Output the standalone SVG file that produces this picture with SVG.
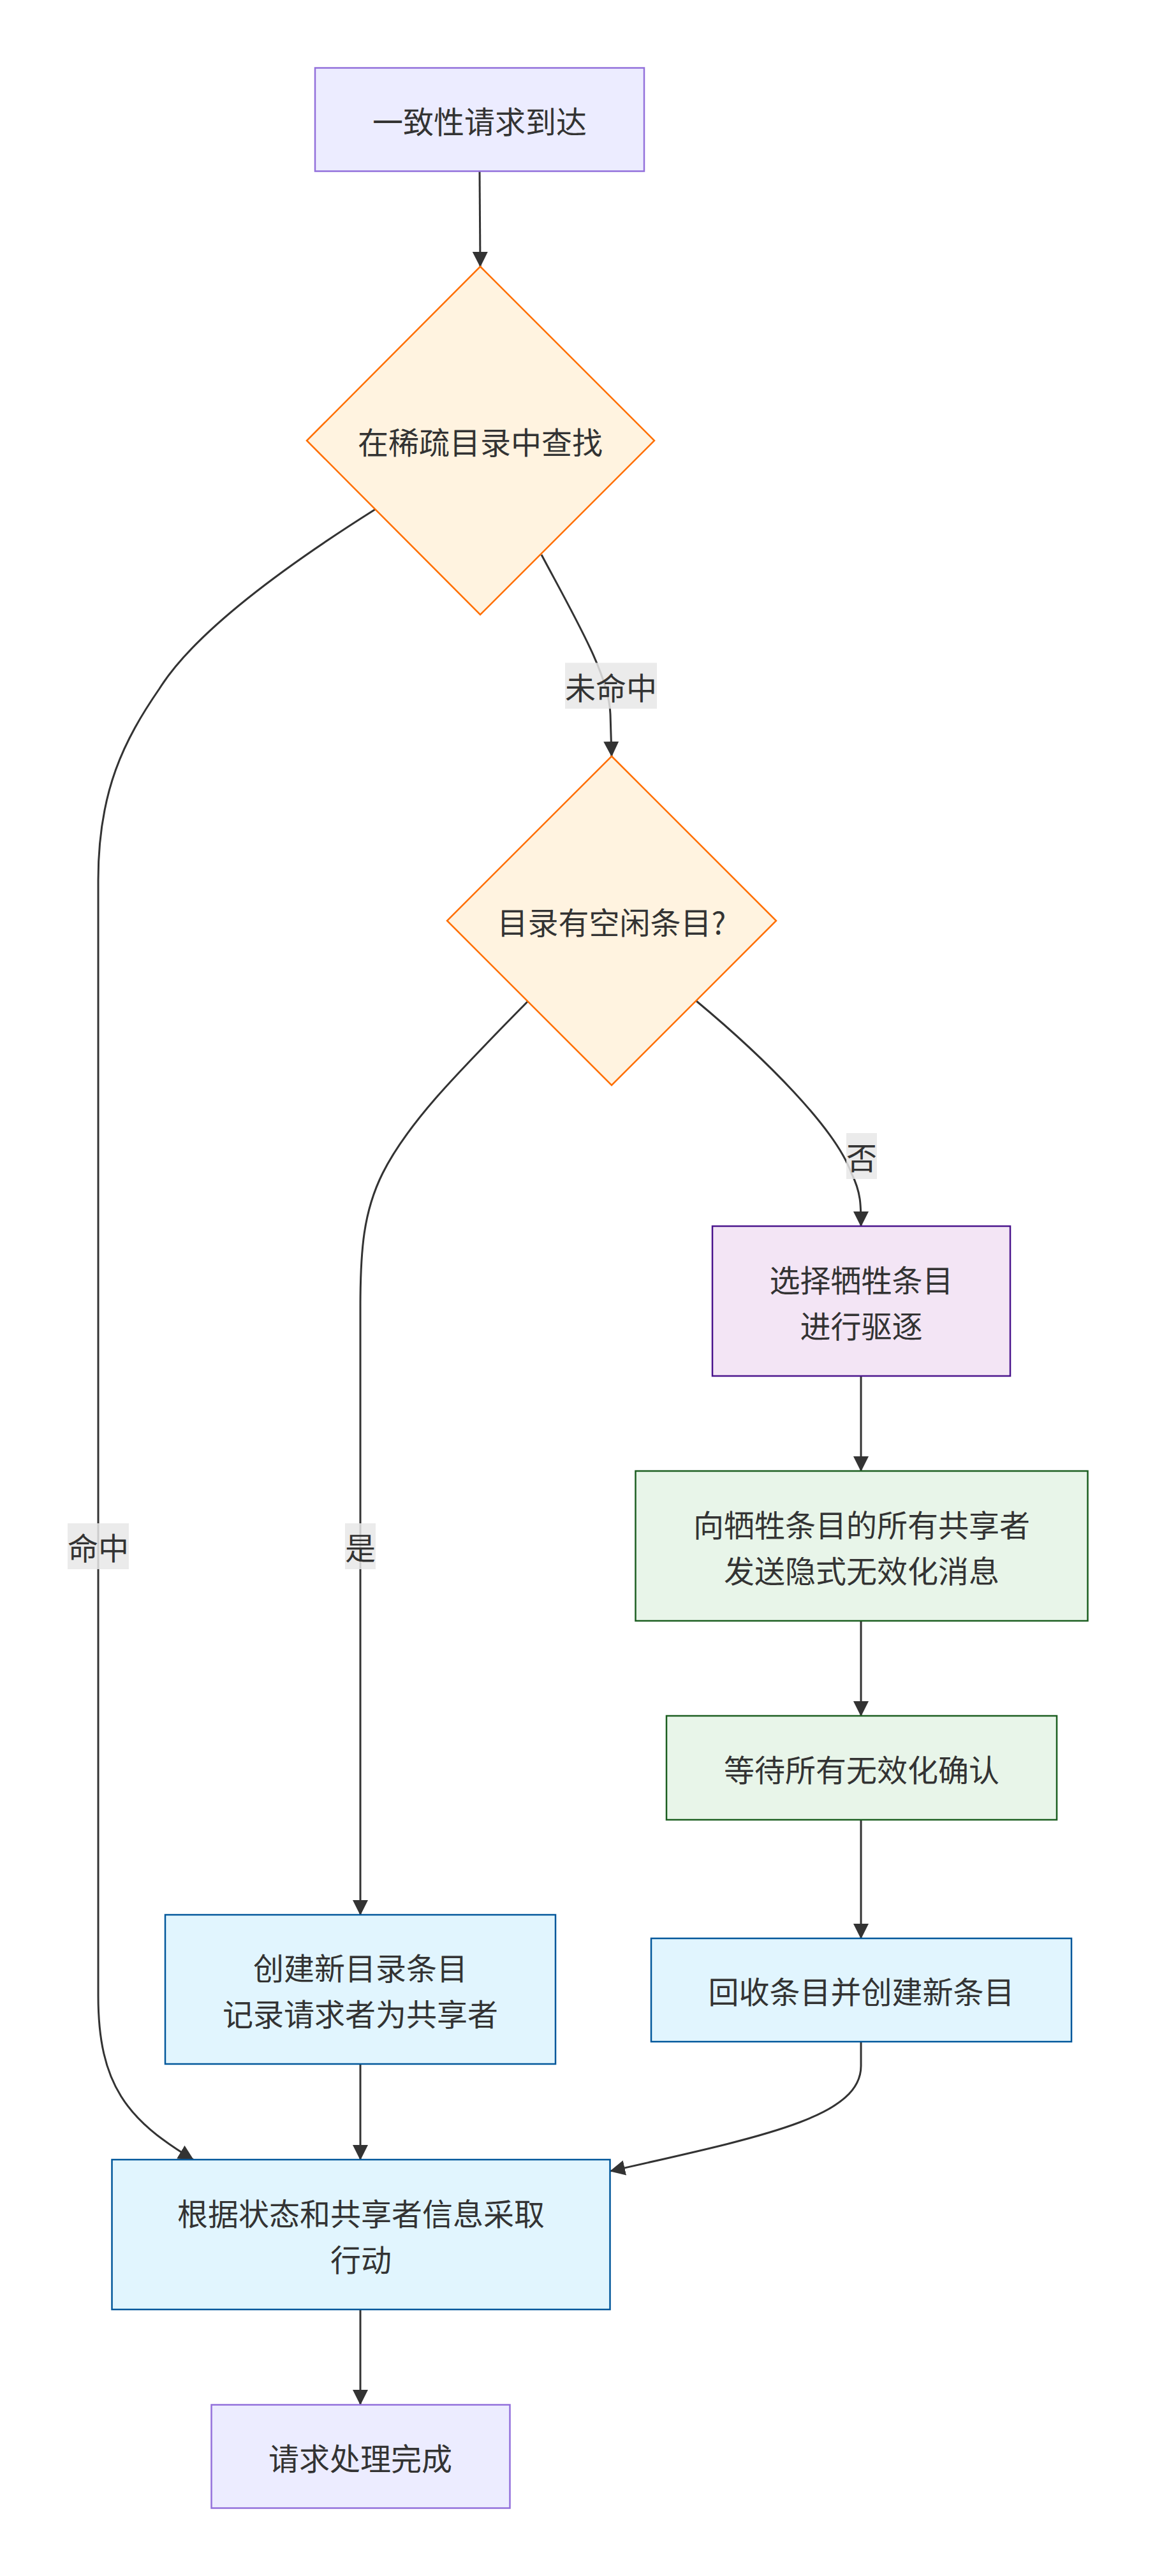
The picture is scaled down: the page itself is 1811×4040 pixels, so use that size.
<svg xmlns="http://www.w3.org/2000/svg" width="1811" height="4040" viewBox="0 0 1811 4040">
<defs>
<marker id="arrow" markerUnits="userSpaceOnUse" viewBox="0 0 24 24" refX="23" refY="12" markerWidth="24" markerHeight="24" orient="auto">
<path d="M0,0 L24,12 L0,24 z" fill="#333333"/>
</marker>
<style>
.edge{fill:none;stroke:#333333;stroke-width:3;marker-end:url(#arrow);}
.t{font-family:"Noto Sans CJK SC","Noto Sans",sans-serif;font-size:48px;fill:#333333;text-anchor:middle;dominant-baseline:central;}
.lbl{fill:#e8e8e8;fill-opacity:0.85;}
.term{fill:#ECECFF;stroke:#9370DB;stroke-width:2.5;}
.dec{fill:#FFF3E0;stroke:#FF6F00;stroke-width:2.5;}
.evict{fill:#F3E5F5;stroke:#4A148C;stroke-width:2.5;}
.green{fill:#E8F5E9;stroke:#1B5E20;stroke-width:2.5;}
.blue{fill:#E1F5FE;stroke:#01579B;stroke-width:2.5;}
</style>
</defs>
<rect width="1811" height="4040" fill="#ffffff"/>

<g id="connectors">
<path class="edge" d="M752,269 L753,418"/>
<path class="edge" d="M849,870 C905,975 955,1060 957,1120 L959,1186"/>
<path class="edge" d="M588,799 C420,905 300,1000 250,1080 C195,1160 154,1240 154,1380 L154,3130 C154,3270 200,3325 303,3387"/>
<path class="edge" d="M827,1571 C720,1680 640,1760 600,1840 C570,1900 565,1960 565,2050 L565,3003"/>
<path class="edge" d="M1092,1570 C1200,1660 1310,1770 1335,1840 C1350,1870 1350,1890 1350,1923"/>
<path class="edge" d="M1350,2158 L1350,2307"/>
<path class="edge" d="M1350,2542 L1350,2691"/>
<path class="edge" d="M1350,2854 L1350,3040"/>
<path class="edge" d="M565,3237 L565,3387"/>
<path class="edge" d="M1350,3202 L1350,3240 C1350,3320 1200,3350 957,3405"/>
<path class="edge" d="M565,3622 L565,3771"/>
</g>

<g id="edge-labels">
<g id="label-miss"><rect class="lbl" x="886" y="1039.5" width="144" height="72"/><text class="t" x="958" y="1075.5">未命中</text></g>
<g id="label-no"><rect class="lbl" x="1327" y="1777" width="48" height="72"/><text class="t" x="1351" y="1813">否</text></g>
<g id="label-hit"><rect class="lbl" x="106" y="2389" width="96" height="72"/><text class="t" x="154" y="2425">命中</text></g>
<g id="label-yes"><rect class="lbl" x="541" y="2389" width="48" height="72"/><text class="t" x="565" y="2425">是</text></g>
</g>

<g id="node-start">
<rect class="term" x="494" y="106.5" width="516" height="162"/>
<text class="t" x="752" y="187.5">一致性请求到达</text>
</g>

<g id="node-lookup">
<polygon class="dec" points="753,418 1026,691 753,964 481,691"/>
<text class="t" x="753" y="691">在稀疏目录中查找</text>
</g>

<g id="node-free">
<polygon class="dec" points="959,1186 1217,1444 959,1702 701,1444"/>
<text class="t" x="959" y="1444">目录有空闲条目?</text>
</g>

<g id="node-evict">
<rect class="evict" x="1117" y="1923" width="467" height="235"/>
<text class="t" x="1350.5" y="2004.5">选择牺牲条目</text>
<text class="t" x="1350.5" y="2076.5">进行驱逐</text>
</g>

<g id="node-inval">
<rect class="green" x="996.5" y="2307" width="709" height="235"/>
<text class="t" x="1351" y="2388.5">向牺牲条目的所有共享者</text>
<text class="t" x="1351" y="2460.5">发送隐式无效化消息</text>
</g>

<g id="node-wait">
<rect class="green" x="1045" y="2691" width="612" height="163"/>
<text class="t" x="1351" y="2772.5">等待所有无效化确认</text>
</g>

<g id="node-create">
<rect class="blue" x="259" y="3003" width="612" height="234"/>
<text class="t" x="565" y="3084">创建新目录条目</text>
<text class="t" x="565" y="3156">记录请求者为共享者</text>
</g>

<g id="node-reclaim">
<rect class="blue" x="1021" y="3040" width="659" height="162"/>
<text class="t" x="1350.5" y="3121">回收条目并创建新条目</text>
</g>

<g id="node-act">
<rect class="blue" x="175.5" y="3387" width="781" height="235"/>
<text class="t" x="566" y="3468.5">根据状态和共享者信息采取</text>
<text class="t" x="566" y="3540.5">行动</text>
</g>

<g id="node-done">
<rect class="term" x="331.5" y="3771.5" width="468" height="162"/>
<text class="t" x="565" y="3852.5">请求处理完成</text>
</g>
</svg>
